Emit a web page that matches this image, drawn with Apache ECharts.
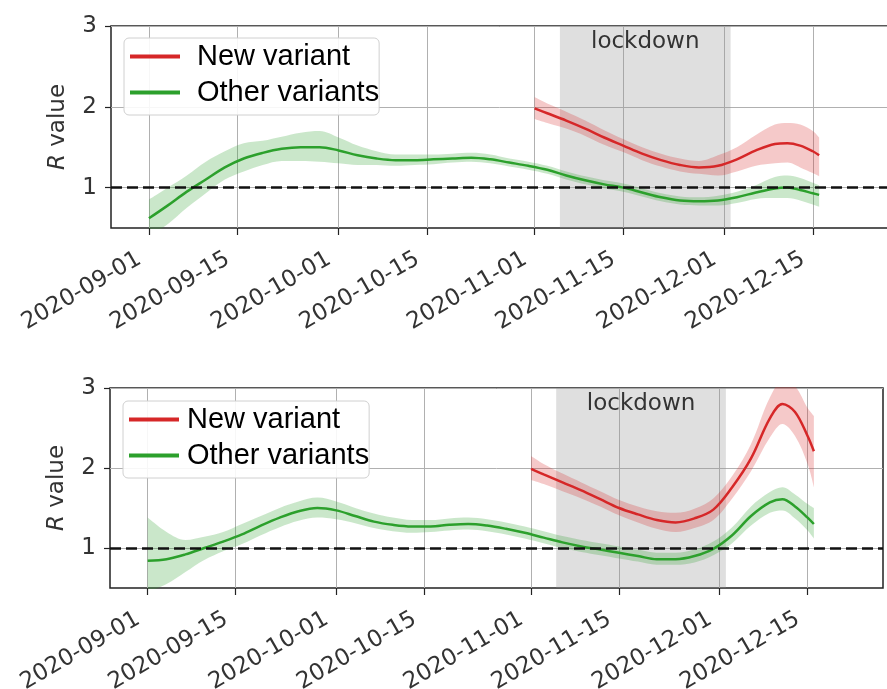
<!DOCTYPE html>
<html><head><meta charset="utf-8">
<script src="https://cdn.jsdelivr.net/npm/echarts@6/dist/echarts.min.js"></script>
<style>html,body{margin:0;padding:0;background:#fff}#c{width:887px;height:689px}</style>
</head><body><div id="c"></div>
<script>
// ---- data ----
const tickDates = ['2020-09-01','2020-09-15','2020-10-01','2020-10-15','2020-11-01','2020-11-15','2020-12-01','2020-12-15'];
const yTicks = [1, 2, 3];
const topRange = ['2020-08-26', '2020-12-28'];
const botRange = ['2020-08-26', '2020-12-27'];
const lockdown = ['2020-11-05', '2020-12-02'];

const otherDates = ['2020-09-01','2020-09-04','2020-09-07','2020-09-10','2020-09-13','2020-09-16','2020-09-19','2020-09-22','2020-09-25','2020-09-28',
  '2020-10-01','2020-10-04','2020-10-07','2020-10-10','2020-10-13','2020-10-16','2020-10-19','2020-10-22','2020-10-25','2020-10-28','2020-10-31',
  '2020-11-03','2020-11-06','2020-11-09','2020-11-12','2020-11-15','2020-11-18','2020-11-21','2020-11-24','2020-11-27','2020-11-30',
  '2020-12-03','2020-12-06','2020-12-09','2020-12-11','2020-12-13','2020-12-15','2020-12-16'];
const newDates = ['2020-11-01','2020-11-03','2020-11-06','2020-11-09','2020-11-12','2020-11-15','2020-11-18','2020-11-21','2020-11-24','2020-11-27','2020-11-30',
  '2020-12-03','2020-12-06','2020-12-09','2020-12-11','2020-12-13','2020-12-15','2020-12-16'];

// top panel
const topOther   = [0.62,0.78,0.95,1.10,1.25,1.36,1.43,1.48,1.50,1.50,1.46,1.40,1.36,1.34,1.34,1.35,1.36,1.37,1.35,1.31,1.27,1.22,1.15,1.09,1.04,1.00,0.94,0.88,0.84,0.83,0.84,0.88,0.94,0.99,1.00,0.97,0.93,0.91];
const topOtherLo = [0.40,0.55,0.75,0.93,1.10,1.20,1.28,1.33,1.33,1.32,1.30,1.28,1.28,1.27,1.28,1.29,1.31,1.32,1.30,1.26,1.22,1.17,1.10,1.04,0.99,0.95,0.89,0.83,0.79,0.78,0.78,0.81,0.86,0.87,0.87,0.84,0.79,0.76];
const topOtherHi = [0.85,1.00,1.15,1.32,1.45,1.55,1.58,1.63,1.68,1.70,1.62,1.52,1.45,1.41,1.41,1.41,1.42,1.43,1.41,1.36,1.32,1.27,1.20,1.14,1.09,1.05,0.99,0.93,0.89,0.88,0.90,0.95,1.03,1.13,1.15,1.12,1.06,1.03];
const topNew   = [1.98,1.92,1.83,1.73,1.62,1.52,1.42,1.34,1.28,1.25,1.27,1.35,1.46,1.54,1.55,1.52,1.45,1.40];
const topNewLo = [1.85,1.80,1.73,1.64,1.53,1.44,1.34,1.26,1.20,1.17,1.15,1.20,1.27,1.30,1.31,1.25,1.18,1.14];
const topNewHi = [2.12,2.04,1.94,1.83,1.71,1.60,1.50,1.42,1.36,1.33,1.40,1.50,1.65,1.78,1.80,1.78,1.70,1.62];

// bottom panel
const botOther   = [0.84,0.86,0.92,1.00,1.08,1.17,1.28,1.38,1.46,1.50,1.47,1.40,1.33,1.29,1.27,1.27,1.29,1.30,1.28,1.24,1.19,1.13,1.07,1.02,0.98,0.94,0.90,0.86,0.86,0.90,0.99,1.16,1.40,1.57,1.61,1.52,1.38,1.30];
const botOtherLo = [0.45,0.55,0.70,0.85,0.96,1.05,1.16,1.26,1.34,1.38,1.36,1.31,1.25,1.21,1.19,1.20,1.22,1.23,1.21,1.17,1.12,1.06,1.00,0.95,0.91,0.87,0.83,0.79,0.79,0.82,0.91,1.06,1.28,1.44,1.47,1.37,1.22,1.12];
const botOtherHi = [1.38,1.20,1.10,1.14,1.20,1.30,1.40,1.50,1.58,1.63,1.58,1.50,1.43,1.38,1.35,1.35,1.37,1.38,1.36,1.32,1.27,1.21,1.15,1.10,1.06,1.02,0.98,0.94,0.94,0.98,1.08,1.26,1.52,1.70,1.76,1.67,1.55,1.50];
const botNew   = [1.99,1.92,1.82,1.72,1.61,1.50,1.42,1.35,1.32,1.37,1.48,1.76,2.12,2.62,2.80,2.70,2.40,2.21];
const botNewLo = [1.85,1.80,1.71,1.62,1.52,1.41,1.32,1.24,1.20,1.25,1.35,1.62,1.96,2.38,2.55,2.40,2.05,1.76];
const botNewHi = [2.15,2.05,1.93,1.82,1.71,1.60,1.52,1.46,1.44,1.49,1.62,1.90,2.30,2.88,3.08,3.02,2.75,2.65];

// ---- helpers: one axis category per calendar day in a range ----
const DAY = 86400000;
function toTime(s){ const p = s.split('-').map(Number); return Date.UTC(p[0], p[1]-1, p[2]); }
function fmt(t){ const d = new Date(t); const z = n => (n<10?'0':'')+n;
  return d.getUTCFullYear()+'-'+z(d.getUTCMonth()+1)+'-'+z(d.getUTCDate()); }
function dayList(range){ const out = []; for (let t = toTime(range[0]); t <= toTime(range[1]); t += DAY) out.push(fmt(t)); return out; }
const tickSet = new Set(tickDates);
const showTick = (i, v) => tickSet.has(v);

function pts(dates, vals){ return dates.map((d,i)=>[d, vals[i]]); }
function diff(dates, lo, hi){ return dates.map((d,i)=>[d, +(hi[i]-lo[i]).toFixed(3)]); }

const GREEN = '#2ca02c', RED = '#d62728';
const FONT = 'DejaVu Sans';

function panelSeries(g, oMid, oLo, oHi, nMid, nLo, nHi){
  const base = {type:'line', xAxisIndex:g, yAxisIndex:g, symbol:'none', showSymbol:false, smooth:0.35, silent:true};
  return [
    Object.assign({}, base, {name:'olo'+g, stack:'o'+g, data:pts(otherDates,oLo), lineStyle:{opacity:0}, z:1,
      markArea:{silent:true, itemStyle:{color:'rgba(150,150,150,0.3)'},
        label:{show:true, position:'insideTop', distance:5, fontFamily:FONT, fontSize:23, color:'#333'},
        data:[[{name:'lockdown', xAxis:lockdown[0]},{xAxis:lockdown[1]}]]}}),
    Object.assign({}, base, {name:'oband'+g, stack:'o'+g, data:diff(otherDates,oLo,oHi), lineStyle:{opacity:0}, z:2,
      areaStyle:{color:'rgba(44,160,44,0.25)', opacity:1}}),
    Object.assign({}, base, {name:'nlo'+g, stack:'n'+g, data:pts(newDates,nLo), lineStyle:{opacity:0}, z:2}),
    Object.assign({}, base, {name:'nband'+g, stack:'n'+g, data:diff(newDates,nLo,nHi), lineStyle:{opacity:0}, z:2,
      areaStyle:{color:'rgba(214,39,40,0.25)', opacity:1}}),
    Object.assign({}, base, {name:'Other variants', data:pts(otherDates,oMid), color:GREEN, itemStyle:{color:GREEN},
      lineStyle:{color:GREEN, width:2.5}, z:3}),
    Object.assign({}, base, {name:'New variant', data:pts(newDates,nMid), color:RED, itemStyle:{color:RED},
      lineStyle:{color:RED, width:2.5}, z:4,
      markLine:{silent:true, symbol:['none','none'], label:{show:false},
        lineStyle:{color:'#111', type:[11,5], width:2.5}, data:[{yAxis:1}]}})
  ];
}

function xAxisOpt(g, range){
  return {type:'category', gridIndex:g, data:dayList(range), boundaryGap:false,
    axisLine:{show:false},
    axisTick:{show:true, interval:showTick, length:7, lineStyle:{color:'#222', width:1.2}},
    axisLabel:{interval:showTick, rotate:30, margin:24, padding:[0,11,0,0],
      fontFamily:FONT, fontSize:23, color:'#333'},
    splitLine:{show:true, interval:showTick, lineStyle:{color:'#b0b0b0', width:1}}};
}
function yAxisOpt(g){
  return {type:'value', gridIndex:g, min:0.5, max:3,
    name:'{i|R} value', nameLocation:'middle', nameGap:41,
    nameTextStyle:{fontFamily:FONT, fontSize:23, color:'#333',
      rich:{i:{fontFamily:FONT, fontSize:23, color:'#333', fontStyle:'italic'}}},
    axisLine:{show:false},
    axisTick:{show:true, customValues:yTicks, length:6, lineStyle:{color:'#222', width:1.2}},
    axisLabel:{customValues:yTicks, margin:14, fontFamily:FONT, fontSize:23, color:'#333'},
    splitLine:{show:true, lineStyle:{color:'#b0b0b0', width:1}}};
}
function legendOpt(left, top, textPad){
  return {data:['New variant','Other variants'], orient:'vertical', left:left, top:top,
    icon:'rect', itemWidth:50, itemHeight:4, itemGap:7, padding:[4,0,8,6], selectedMode:false,
    backgroundColor:'rgba(255,255,255,0.9)', borderColor:'#d0d0d0', borderWidth:1, borderRadius:5,
    textStyle:{fontFamily:'Liberation Sans', fontSize:29, color:'#000', padding:[0,0,0,textPad]}};
}

const chart = echarts.init(document.getElementById('c'), null, {renderer:'canvas'});
chart.setOption({
  animation:false,
  backgroundColor:'#fff',
  grid:[
    {left:111, top:26, width:784, height:202, containLabel:false, outerBoundsMode:'none',
      show:true, borderColor:'#222', borderWidth:1.5},
    {left:110, top:388, width:773, height:200, containLabel:false, outerBoundsMode:'none',
      show:true, borderColor:'#222', borderWidth:1.5}
  ],
  xAxis:[xAxisOpt(0, topRange), xAxisOpt(1, botRange)],
  yAxis:[yAxisOpt(0), yAxisOpt(1)],
  legend:[legendOpt(124, 38, 12), legendOpt(123, 401, 3)],
  series:[].concat(
    panelSeries(0, topOther, topOtherLo, topOtherHi, topNew, topNewLo, topNewHi),
    panelSeries(1, botOther, botOtherLo, botOtherHi, botNew, botNewLo, botNewHi)
  )
});
</script>
</body></html>
